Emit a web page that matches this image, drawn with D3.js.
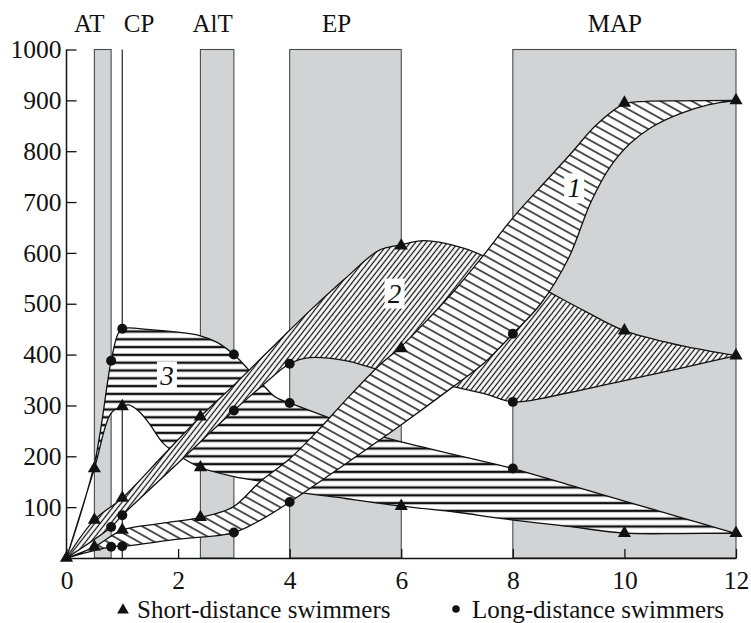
<!DOCTYPE html>
<html><head><meta charset="utf-8">
<script src="https://cdn.jsdelivr.net/npm/d3@7"></script>
<style>
body{margin:0;background:#fff}
svg{display:block}
text{font-family:"Liberation Serif","Times New Roman",serif;fill:#111}
</style>
</head><body>
<svg id="c" width="751" height="623"></svg>
<script>
// ---- data ----
const xTicks = [0, 2, 4, 6, 8, 10, 12];
const yTicks = [100, 200, 300, 400, 500, 600, 700, 800, 900, 1000];

const zoneNames = ["AT", "CP", "AlT", "EP", "MAP"];
const zoneStart = [0.5, 1, 2.4, 4, 8];
const zoneEnd   = [0.8, 1, 3.0, 6, 12];
const zoneLabelX = [0.41, 1.3, 2.62, 4.84, 9.83];

// band 1 (short-distance upper edge, long-distance lower edge)
const band1Upper = [[0,0],[0.5,22],[1,55],[1.7,68],[2.4,80],[2.98,100],[3.47,150],[4,195],[4.5,250],[5,310],[5.6,378],[6,416],[6.5,472],[7,532],[7.45,592],[8,669],[8.59,741],[9.03,794],[9.5,852],[10,893],[10.4,898],[11,899],[12,900]];
const band1Lower = [[0,0],[0.8,22],[1,23],[2,37],[3,50],[3.5,76],[4,110],[5,185],[6,262],[6.93,337],[7.5,385],[8,441],[8.5,500],[9,590],[9.4,700],[9.75,770],[10.1,815],[10.5,848],[11,874],[11.5,891],[12,900]];

// band 2
const band2Upper = [[0,0],[0.5,75],[1,118],[1.7,198],[2.4,278],[3,340],[4,448],[4.36,486],[5,550],[5.6,605],[6,616],[6.4,624],[7.1,610],[7.53,591],[8,562],[8.67,522],[9.3,485],[10,447],[11,418],[12,398]];
const band2Lower = [[0,0],[0.8,61],[1,84],[2,187],[3,290],[3.5,338],[4,382],[4.36,394],[5,388],[5.55,372],[6.2,355],[6.93,337],[7.5,323],[8,307],[9,325],[10,349],[11,373],[12,398]];

// band 3 (long-distance upper edge, short-distance lower edge)
const band3Upper = [[0,0],[0.5,185],[0.8,388],[0.92,440],[1,451],[1.5,449],[2,444],[2.4,437],[2.7,424],[3,400],[3.25,372],[3.5,343],[3.75,316],[4,305],[4.7,276],[5.7,237],[6.5,215],[7.2,197],[8,176],[9,144],[10,112],[11,80],[12,48]];
const band3Lower = [[0,0],[0.5,176],[0.8,285],[1,298],[1.12,301],[1.3,288],[1.5,262],[1.73,226],[2.05,199],[2.4,178],[3,160],[3.5,150],[4,133],[5,117],[6,102],[7,90],[7.77,78],[9,62],[10,49],[11,48],[12,49]];

// markers
const shortPts = [[0,0],[0.5,22],[0.5,75],[0.5,176],[1,55],[1,118],[1,298],[2.4,80],[2.4,278],[2.4,178],[6,614],[6,412],[6,102],[10,895],[10,447],[10,49],[12,900],[12,398],[12,49]];
const longPts  = [[0.8,22],[0.8,61],[0.8,388],[1,23],[1,84],[1,451],[3,50],[3,290],[3,400],[4,110],[4,382],[4,305],[8,441],[8,307],[8,176]];

const bandLabels = ["1", "2", "3"];
const bandLabelPos = [[9.1,727],[5.88,520],[1.8,357]];

const legendLabels = ["Short-distance swimmers", "Long-distance swimmers"];

// ---- drawing ----
const svg = d3.select("#c");
const x = d3.scaleLinear().domain([0, 12]).range([66.5, 736]);
const y = d3.scaleLinear().domain([0, 1000]).range([558, 49.5]);
const FONT = '"Liberation Serif","Times New Roman",serif';

const defs = svg.append("defs");
function hatch(id, gap, width, angle) {
  const p = defs.append("pattern").attr("id", id).attr("patternUnits", "userSpaceOnUse")
    .attr("width", 40).attr("height", gap).attr("patternTransform", `rotate(${angle})`);
  p.append("rect").attr("width", 40).attr("height", gap).attr("fill", "#fff");
  p.append("line").attr("x1", 0).attr("x2", 40).attr("y1", gap / 2).attr("y2", gap / 2)
    .attr("stroke", "#111").attr("stroke-width", width);
}
hatch("h1", 7.6, 1.4, 29);
hatch("h2", 4.2, 1.1, -52);
hatch("h3", 7.8, 2.3, 0);

// zones
zoneNames.forEach((n, i) => {
  if (zoneStart[i] === zoneEnd[i]) {
    svg.append("line").attr("x1", x(zoneStart[i])).attr("x2", x(zoneStart[i]))
      .attr("y1", y(0)).attr("y2", y(1000)).attr("stroke", "#333").attr("stroke-width", 1.3);
  } else {
    svg.append("rect").attr("x", x(zoneStart[i])).attr("y", y(1000))
      .attr("width", x(zoneEnd[i]) - x(zoneStart[i])).attr("height", y(0) - y(1000))
      .attr("fill", "#d2d3d5").attr("stroke", "#4a4a4a").attr("stroke-width", 1.1);
  }
  svg.append("text").attr("x", x(zoneLabelX[i])).attr("y", 32).attr("text-anchor", "middle")
    .attr("font-size", 25).text(n);
});

const line = d3.line().x(d => x(d[0])).y(d => y(d[1])).curve(d3.curveCatmullRom.alpha(0.5));
function bandPath(upper, lower) {
  const a = line(upper);
  const b = line(lower.slice().reverse());
  return a + "L" + b.slice(1) + "Z";
}
const bands = [[band3Upper, band3Lower, "h3"], [band2Upper, band2Lower, "h2"], [band1Upper, band1Lower, "h1"]];
bands.forEach(([u, l, h]) => {
  svg.append("path").attr("d", bandPath(u, l)).attr("fill", `url(#${h})`)
    .attr("stroke", "#111").attr("stroke-width", 1.3).attr("stroke-linejoin", "round");
});

// markers
svg.selectAll(".tri").data(shortPts).join("path").attr("class", "tri")
  .attr("transform", d => `translate(${x(d[0])},${y(d[1])})`)
  .attr("d", d3.symbol(d3.symbolTriangle, 75)).attr("fill", "#111");
svg.selectAll(".cir").data(longPts).join("path").attr("class", "cir")
  .attr("transform", d => `translate(${x(d[0])},${y(d[1])})`)
  .attr("d", d3.symbol(d3.symbolCircle, 78)).attr("fill", "#111");

// band labels
bandLabels.forEach((t, i) => {
  const px = x(bandLabelPos[i][0]), py = y(bandLabelPos[i][1]);
  svg.append("rect").attr("x", px - 10).attr("y", py - 15).attr("width", 20).attr("height", 30).attr("fill", "#fff");
  svg.append("text").attr("x", px).attr("y", py + 9).attr("text-anchor", "middle")
    .attr("font-size", 27).attr("font-style", "italic").text(t);
});

// axes
const ya = svg.append("g").attr("transform", `translate(${x(0)},0)`)
  .call(d3.axisLeft(y).tickValues(yTicks).tickFormat(d3.format("d")).tickSize(-10).tickSizeOuter(0).tickPadding(5));
const xa = svg.append("g").attr("transform", `translate(0,${y(0)})`)
  .call(d3.axisBottom(x).tickValues(xTicks).tickFormat(d3.format("d")).tickSize(-9).tickSizeOuter(0).tickPadding(13));
[ya, xa].forEach(g => {
  g.attr("font-family", FONT);
  g.select(".domain").attr("stroke", "#111").attr("stroke-width", 1.5);
  g.selectAll(".tick line").attr("stroke", "#111").attr("stroke-width", 1.3);
  g.selectAll(".tick text").attr("font-size", 25.5).attr("fill", "#111");
});
ya.select(".domain").attr("d", `M0,${y(0)}V${y(1000)}`);

// legend
const lg = svg.append("g");
lg.append("path").attr("transform", "translate(123,610)").attr("d", d3.symbol(d3.symbolTriangle, 60)).attr("fill", "#111");
lg.append("text").attr("x", 137).attr("y", 618).attr("font-size", 25).text(legendLabels[0]);
lg.append("path").attr("transform", "translate(456,609)").attr("d", d3.symbol(d3.symbolCircle, 45)).attr("fill", "#111");
lg.append("text").attr("x", 472).attr("y", 618).attr("font-size", 25).text(legendLabels[1]);
</script>
</body></html>
